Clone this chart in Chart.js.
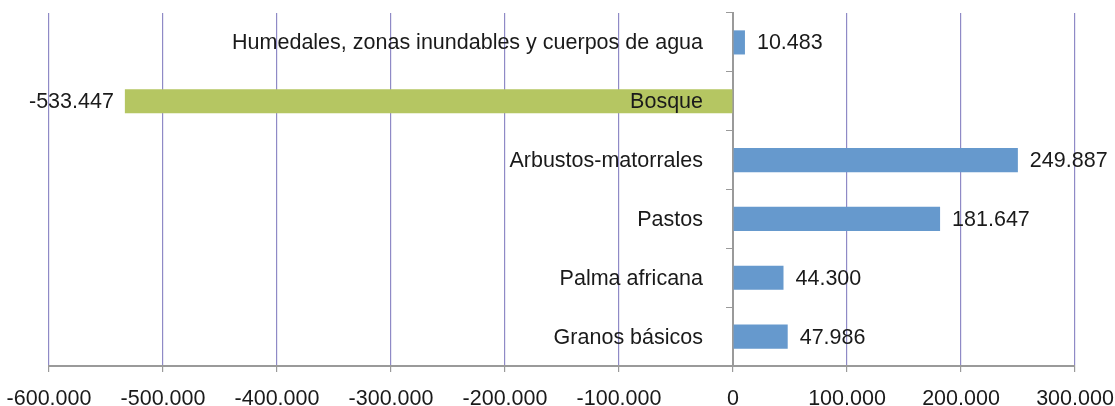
<!DOCTYPE html>
<html>
<head>
<meta charset="utf-8">
<script src="https://cdn.jsdelivr.net/npm/chart.js@4.4.1/dist/chart.umd.min.js"></script>
<style>
  html, body { margin: 0; padding: 0; background: #fff; }
  #wrap { width: 1115px; height: 406px; position: relative; }
</style>
</head>
<body>
<div id="wrap"><canvas id="chart"></canvas></div>
<script>
/* ---------- datos ---------- */
const categorias = [
  'Humedales, zonas inundables y cuerpos de agua',
  'Bosque',
  'Arbustos-matorrales',
  'Pastos',
  'Palma africana',
  'Granos básicos'
];
const cambios = [10483, -533447, 249887, 181647, 44300, 47986];
const ejeMin = -600000;
const ejeMax = 300000;
const ejePaso = 100000;

/* ---------- estilo ---------- */
const FONT = '"Liberation Sans", Arial, Helvetica, sans-serif';
const AZUL = '#6699cd';
const VERDE = '#b5c662';
const GRIS = '#9a9a9a';
const MORADO = '#8f8ac6';
const TEXTO = '#1a1a1a';

// 10483 -> "10.483"
function miles(v) {
  const s = Math.abs(Math.round(v)).toString().replace(/\B(?=(\d{3})+(?!\d))/g, '.');
  return (v < 0 ? '-' : '') + s;
}

/* etiquetas de categoría (junto al eje 0) y de valor (al final de cada barra) */
const etiquetas = {
  id: 'etiquetas',
  afterDatasetsDraw(chart) {
    const ctx = chart.ctx;
    const cero = chart.scales.x.getPixelForValue(0);
    const barras = chart.getDatasetMeta(0).data;
    ctx.save();
    ctx.font = '21.5px ' + FONT;
    ctx.fillStyle = TEXTO;
    ctx.textBaseline = 'middle';
    barras.forEach((b, i) => {
      ctx.textAlign = 'right';
      ctx.fillText(categorias[i], cero - 30, b.y + 1);
      const v = cambios[i];
      if (v >= 0) {
        ctx.textAlign = 'left';
        ctx.fillText(miles(v), b.x + 12, b.y + 1);
      } else {
        ctx.textAlign = 'right';
        ctx.fillText(miles(v), b.x - 11, b.y + 1);
      }
    });
    ctx.restore();
  }
};

new Chart(document.getElementById('chart'), {
  type: 'bar',
  data: {
    labels: categorias,
    datasets: [{
      data: cambios,
      backgroundColor: cambios.map(v => v < 0 ? VERDE : AZUL),
      borderWidth: 0,
      categoryPercentage: 1,
      barPercentage: 0.41
    }]
  },
  options: {
    indexAxis: 'y',
    responsive: true,
    maintainAspectRatio: false,
    animation: false,
    layout: { padding: { top: 13, left: 49, right: 40, bottom: 0 } },
    plugins: { legend: { display: false }, tooltip: { enabled: false } },
    scales: {
      x: {
        min: ejeMin,
        max: ejeMax,
        afterFit: s => { s.height = 40; s.paddingLeft = 0; s.paddingRight = 0; },
        ticks: {
          stepSize: ejePaso,
          callback: v => miles(v),
          color: TEXTO,
          font: { family: FONT, size: 21.5, lineHeight: 1 },
          padding: 16,
          maxRotation: 0,
          autoSkip: false
        },
        grid: {
          color: c => (c.tick && c.tick.value === 0) ? 'rgba(0,0,0,0)' : MORADO,
          tickColor: GRIS,
          tickLength: 6,
          lineWidth: 1.2
        },
        border: { color: GRIS, width: 2 }
      },
      y: {
        position: { x: 0 },
        afterFit: s => { s.width = 0; s.paddingTop = 0; s.paddingBottom = 0; },
        ticks: { display: false },
        grid: { drawOnChartArea: false, drawTicks: true, tickLength: 6, color: GRIS, offset: true },
        border: { color: GRIS, width: 2 }
      }
    }
  },
  plugins: [etiquetas]
});
</script>
</body>
</html>
